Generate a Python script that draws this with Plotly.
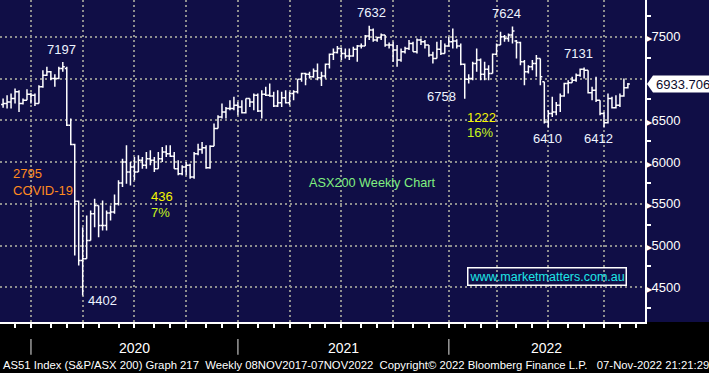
import plotly.graph_objects as go
import pandas as pd

# ---------------- data (weekly bars, ASX200) ----------------
first_week = "2019-11-08"
n_weeks = 158
dates = pd.date_range(first_week, periods=n_weeks, freq="7D")

opens = [
    6690, 6700, 6720, 6760, 6840, 6700, 6740, 6810, 6800, 6700,
    6900, 7040, 7080, 7000, 7000, 7120, 7120, 6440, 6210, 5530,
    4820, 4840, 5060, 5380, 5480, 5240, 5240, 5390, 5400, 5500,
    5750, 6000, 5880, 5940, 5880, 6020, 5960, 6040, 6020, 5920,
    6040, 6120, 6100, 6070, 5920, 5860, 5940, 5960, 5820, 6100,
    6150, 6170, 5930, 6190, 6400, 6540, 6600, 6640, 6640, 6680,
    6660, 6590, 6760, 6720, 6800, 6610, 6810, 6800, 6790, 6670,
    6710, 6770, 6710, 6820, 6840, 6990, 7060, 7050, 7020, 7090,
    7010, 7030, 7170, 7290, 7310, 7360, 7300, 7270, 7270, 7350,
    7390, 7390, 7510, 7580, 7460, 7490, 7520, 7400, 7400, 7340,
    7220, 7320, 7360, 7420, 7320, 7460, 7440, 7400, 7280, 7240,
    7350, 7300, 7390, 7440, 7450, 7390, 7170, 6990, 7000, 7180,
    7220, 7050, 7110, 7060, 7290, 7400, 7500, 7480, 7520, 7450,
    7430, 7200, 7080, 7140, 7180, 7240, 6960, 6480, 6580, 6600,
    6680, 6790, 6940, 6950, 6980, 7040, 7110, 7100, 6830, 6860,
    6740, 6580, 6470, 6760, 6650, 6680, 6790, 6890,
]
highs = [
    6760, 6800, 6820, 6880, 6860, 6760, 6870, 6830, 6820, 6920,
    7100, 7140, 7090, 7050, 7140, 7197, 7140, 6520, 6220, 5540,
    5220, 5360, 5420, 5560, 5480, 5540, 5420, 5480, 5610, 5780,
    6040, 6200, 6000, 6060, 6080, 6060, 6120, 6140, 6060, 6120,
    6180, 6200, 6200, 6120, 6020, 5960, 6000, 5980, 6120, 6220,
    6240, 6200, 6200, 6460, 6560, 6700, 6660, 6740, 6780, 6720,
    6740, 6760, 6760, 6820, 6820, 6860, 6900, 6940, 6840, 6860,
    6840, 6860, 6840, 6860, 6990, 7070, 7070, 7080, 7120, 7180,
    7080, 7180, 7300, 7360, 7390, 7370, 7360, 7360, 7380, 7400,
    7420, 7520, 7632, 7600, 7500, 7540, 7520, 7430, 7440, 7400,
    7360, 7380, 7460, 7440, 7480, 7480, 7460, 7400, 7320, 7440,
    7460, 7420, 7500, 7600, 7470, 7420, 7180, 7050, 7200, 7360,
    7240, 7200, 7160, 7300, 7420, 7560, 7520, 7540, 7624, 7460,
    7440, 7220, 7160, 7220, 7280, 7240, 6960, 6620, 6780, 6720,
    6820, 6950, 6980, 7020, 7060, 7120, 7131, 7100, 6900, 7020,
    6740, 6600, 6820, 6780, 6800, 6820, 7000, 6945,
]
lows = [
    6650, 6640, 6640, 6700, 6600, 6690, 6740, 6700, 6670, 6700,
    6890, 7030, 6980, 6900, 6990, 7080, 6430, 6200, 4880, 4760,
    4402, 4840, 5060, 5220, 5100, 5180, 5180, 5300, 5380, 5480,
    5700, 5740, 5720, 5780, 5880, 5920, 5920, 5960, 5880, 5920,
    6000, 6060, 6060, 5920, 5840, 5840, 5840, 5800, 5800, 6080,
    6100, 5920, 5920, 6190, 6400, 6520, 6520, 6620, 6620, 6560,
    6580, 6580, 6660, 6620, 6600, 6520, 6790, 6780, 6660, 6660,
    6660, 6700, 6680, 6740, 6820, 6960, 6920, 7000, 7010, 6980,
    6910, 7000, 7120, 7220, 7300, 7220, 7240, 7220, 7260, 7200,
    7360, 7390, 7460, 7440, 7440, 7460, 7380, 7360, 7200, 7140,
    7200, 7300, 7340, 7320, 7300, 7400, 7360, 7260, 7180, 7240,
    7280, 7300, 7380, 7360, 7360, 7160, 6758, 6940, 6980, 7080,
    6980, 6980, 6980, 7060, 7280, 7400, 7440, 7440, 7420, 7240,
    7160, 6920, 7060, 7100, 7020, 6920, 6460, 6410, 6540, 6560,
    6600, 6780, 6820, 6950, 6960, 7020, 7000, 6820, 6740, 6720,
    6560, 6412, 6460, 6640, 6640, 6660, 6780, 6880,
]
closes = [
    6700, 6720, 6760, 6840, 6700, 6740, 6810, 6800, 6700, 6900,
    7040, 7080, 7000, 7000, 7120, 7140, 6440, 6210, 5530, 4820,
    4840, 5060, 5380, 5480, 5240, 5240, 5390, 5400, 5500, 5750,
    6000, 5880, 5940, 5880, 6020, 5960, 6040, 6020, 5920, 6040,
    6120, 6100, 6070, 5920, 5860, 5940, 5960, 5820, 6100, 6150,
    6170, 5930, 6190, 6400, 6540, 6600, 6640, 6640, 6680, 6660,
    6590, 6760, 6720, 6800, 6610, 6810, 6800, 6790, 6670, 6710,
    6770, 6710, 6820, 6840, 6990, 7060, 7050, 7020, 7090, 7010,
    7030, 7170, 7290, 7310, 7360, 7300, 7270, 7270, 7350, 7390,
    7390, 7510, 7580, 7460, 7490, 7520, 7400, 7400, 7340, 7220,
    7320, 7360, 7420, 7320, 7460, 7440, 7400, 7280, 7240, 7350,
    7300, 7390, 7440, 7450, 7390, 7170, 6990, 7000, 7180, 7220,
    7050, 7110, 7060, 7290, 7400, 7500, 7480, 7520, 7570, 7430,
    7200, 7080, 7140, 7180, 7240, 7020, 6480, 6580, 6600, 6680,
    6790, 6940, 6950, 6980, 7040, 7110, 7100, 6830, 6860, 6740,
    6580, 6470, 6760, 6650, 6680, 6790, 6890, 6933.706,
]

y_tickvals = [4500, 5000, 5500, 6000, 6500, 7000, 7500]
y_ticklabels = ["4500", "5000", "5500", "6000", "6500", "", "7500"]
y_minor_vals = [4250, 4750, 5250, 5750, 6250, 6750, 7250, 7750]
year_labels = ["2020", "2021", "2022"]

# chart notes: (text, bar index, level, anchor, colour)
WHITE_T = "#eef3ff"
notes = [
    ("7197", 14.6, 7352, "center", WHITE_T),
    ("2795", 1.9, 5864, "left", "#ff8a1e"),
    ("COVID-19", 1.9, 5664, "left", "#ff8a1e"),
    ("4402", 20.9, 4340, "left", WHITE_T),
    ("436", 36.7, 5582, "left", "#f4f400"),
    ("7%", 36.7, 5396, "left", "#c8f41e"),
    ("7632", 92.5, 7796, "center", WHITE_T),
    ("6758", 114.3, 6782, "right", WHITE_T),
    ("1222", 116.1, 6536, "left", "#f4f400"),
    ("16%", 116.1, 6350, "left", "#c8f41e"),
    ("7624", 126.6, 7784, "center", WHITE_T),
    ("7131", 144.6, 7304, "center", WHITE_T),
    ("6410", 136.7, 6278, "center", WHITE_T),
    ("6412", 149.5, 6278, "center", WHITE_T),
]
chart_title = "ASX200 Weekly Chart"
site = "www.marketmatters.com.au"
footer = ("AS51 Index (S&P/ASX 200) Graph 217  Weekly 08NOV2017-07NOV2022  "
          "Copyright\u00a9 2022 Bloomberg Finance L.P.   07-Nov-2022 21:21:29")

# ---------------- styling ----------------
NAVY = "#100e46"
GRID = "#8e8e8e"
FONT = "Liberation Sans, Arial, sans-serif"
X_RANGE = [-0.78, 161.3]
Y_RANGE = [4084, 7940]

idx = list(range(len(closes)))

# month boundaries -> ticks at the last bar of the previous month
ext = pd.date_range(first_week, periods=int(X_RANGE[1]) + 2, freq="7D")
month_ticks = []
prev = None
for k, d in enumerate(ext):
    key = (d.year, d.month)
    if prev is not None and key != prev:
        month_ticks.append((k - 1, d.month))
    prev = key
grid_vals = [k for k, m in month_ticks if m in (1, 4, 7, 10) and k <= X_RANGE[1]]
minor_vals = [k for k, m in month_ticks if m not in (1, 4, 7, 10) and k <= X_RANGE[1]]
year_breaks = [k for k, m in month_ticks if m == 1]

fig = go.Figure(
    go.Ohlc(
        x=idx, open=opens, high=highs, low=lows, close=closes,
        increasing=dict(line=dict(color="white", width=1.5)),
        decreasing=dict(line=dict(color="white", width=1.5)),
        tickwidth=0.5, hoverinfo="skip", showlegend=False,
    )
)

tri = "<span style='font-size:8px'>\u25B6</span>"
fig.update_layout(
    width=709, height=373,
    margin=dict(l=0, r=64, t=0, b=51),
    paper_bgcolor="black", plot_bgcolor=NAVY,
    font=dict(family=FONT, color="white", size=13),
    showlegend=False,
    xaxis=dict(
        range=X_RANGE, rangeslider=dict(visible=False),
        tickmode="array", tickvals=grid_vals, showticklabels=False,
        showgrid=True, gridcolor=GRID, gridwidth=2, griddash="2px,3px",
        ticks="outside", ticklen=4, tickcolor="white", tickwidth=1.5,
        minor=dict(tickmode="array", tickvals=minor_vals, ticks="outside",
                   ticklen=4, tickcolor="white", tickwidth=1.5, showgrid=False),
        showline=True, linecolor="white", linewidth=2, zeroline=False,
        fixedrange=True, automargin=False,
    ),
    yaxis=dict(
        range=Y_RANGE, side="right",
        tickmode="array", tickvals=y_tickvals,
        ticktext=[(tri + t) if t else "" for t in y_ticklabels],
        tickfont=dict(family=FONT, size=13, color="white"),
        ticklabelstandoff=-4,
        showgrid=True, gridcolor=GRID, gridwidth=2, griddash="2px,3px",
        ticks="",
        minor=dict(tickmode="array", tickvals=y_minor_vals, ticks="outside",
                   ticklen=4, tickcolor="white", tickwidth=1.5, showgrid=False),
        showline=True, linecolor="white", linewidth=2, zeroline=False,
        fixedrange=True, automargin=False,
    ),
)

shapes = [
    # navy panel behind the right-hand price scale
    dict(type="rect", xref="paper", yref="paper", x0=1, x1=1.1, y0=0, y1=1,
         fillcolor=NAVY, line=dict(width=0), layer="below"),
]
# year separators in the footer band
for k in year_breaks:
    if X_RANGE[0] <= k <= X_RANGE[1]:
        shapes.append(dict(type="line", xref="x", yref="paper", x0=k, x1=k,
                           y0=-0.053, y1=-0.102, line=dict(color="#9a9a9a", width=1.5)))
# last price tag
last = closes[-1]
h = 102
shapes.append(dict(
    type="path", xref="paper", yref="y", layer="above",
    path=f"M 1.0031,{last} L 1.0124,{last + h} L 1.0992,{last + h} "
         f"L 1.0992,{last - h} L 1.0124,{last - h} Z",
    fillcolor="white", line=dict(width=0),
))
fig.update_layout(shapes=shapes)

ann = []
for text, k, lvl, anchor, col in notes:
    ann.append(dict(x=k, y=lvl, xref="x", yref="y", text=text, showarrow=False,
                    xanchor=anchor, yanchor="middle",
                    font=dict(family=FONT, size=13, color=col)))
ann.append(dict(x=76.3, y=5750, xref="x", yref="y", text=chart_title, showarrow=False,
                xanchor="left", yanchor="middle",
                font=dict(family=FONT, size=12.7, color="#80f080")))
ann.append(dict(x=136.6, y=4634, xref="x", yref="y", text=site, showarrow=False,
                xanchor="center", yanchor="middle", bordercolor="white", borderwidth=1.5,
                borderpad=1, font=dict(family=FONT, size=12.5, color="#1ee6e6")))
# year labels centred between year breaks
edges = year_breaks + [X_RANGE[1]]
for i, lab in enumerate(year_labels):
    ann.append(dict(x=(edges[i] + edges[i + 1]) / 2, y=-0.081, xref="x", yref="paper",
                    text=lab, showarrow=False, xanchor="center", yanchor="middle",
                    font=dict(family=FONT, size=14, color="white")))
# last price value
ann.append(dict(x=1.0140, y=last, xref="paper", yref="y", text=f"{last:.3f}",
                showarrow=False, xanchor="left", yanchor="middle",
                font=dict(family=FONT, size=13, color="#0a0a2a")))
# footer
ann.append(dict(x=0.002, y=-0.134, xref="paper", yref="paper", text=footer,
                showarrow=False, xanchor="left", yanchor="middle",
                font=dict(family=FONT, size=11.3, color="white")))
fig.update_layout(annotations=ann)

fig.write_html(
    "out.html",
    config={"displayModeBar": False},
    post_script="document.body.style.margin='0';document.body.style.padding='0';"
                "document.body.style.background='black';",
)
